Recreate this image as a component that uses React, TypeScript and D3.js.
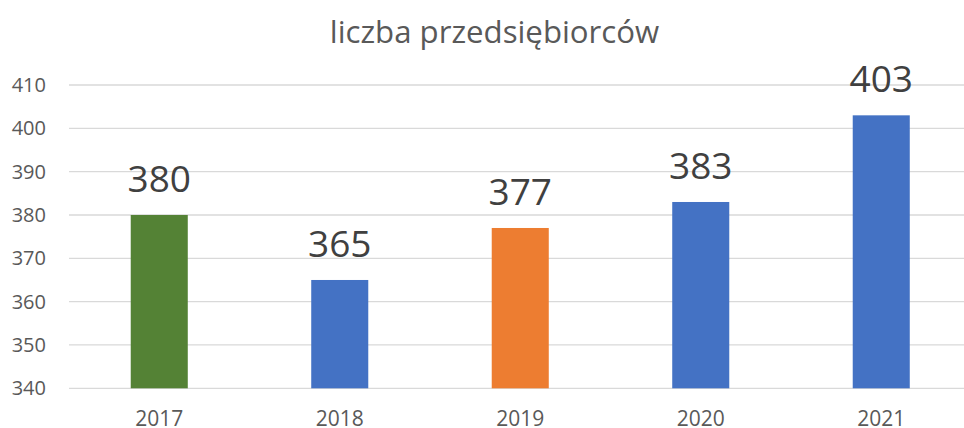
import React from "react";
import * as d3 from "d3";

const years = ["2017", "2018", "2019", "2020", "2021"];
const values = [380, 365, 377, 383, 403];
const barColors = ["#548235", "#4472C4", "#ED7D31", "#4472C4", "#4472C4"];
const yTicks = [340, 350, 360, 370, 380, 390, 400, 410];
const title = "liczba przedsiębiorców";

const W = 964;
const H = 428;

export default function App() {
  const x = d3.scaleBand<string>().domain(years).range([69, 971.5]).paddingInner(0.684).paddingOuter(0.342);
  const y = d3.scaleLinear().domain([340, 410]).range([388.3, 85]);
  const font = "'Open Sans', sans-serif";
  return (
    <svg width={W} height={H} style={{ position: "absolute", left: 0, top: 0, background: "#fff" }} fontFamily={font}>
      <text x={494.5} y={43} textAnchor="middle" fontSize={31.2} fill="#595959">{title}</text>
      {yTicks.map((t) => (
        <g key={t}>
          <line x1={69} x2={W} y1={y(t)} y2={y(t)} stroke="#D9D9D9" strokeWidth={1.3} />
          <text x={46} y={y(t) + 7} textAnchor="end" fontSize={20} fill="#595959">{t}</text>
        </g>
      ))}
      {years.map((yr, i) => (
        <g key={yr}>
          <rect x={x(yr)} y={y(values[i])} width={x.bandwidth()} height={y(340) - y(values[i])} fill={barColors[i]} />
          <text x={(x(yr) as number) + x.bandwidth() / 2} y={y(values[i]) - 23} textAnchor="middle" fontSize={37} fill="#404040">{values[i]}</text>
          <text x={(x(yr) as number) + x.bandwidth() / 2} y={425.5} textAnchor="middle" fontSize={21} fill="#595959">{yr}</text>
        </g>
      ))}
    </svg>
  );
}
